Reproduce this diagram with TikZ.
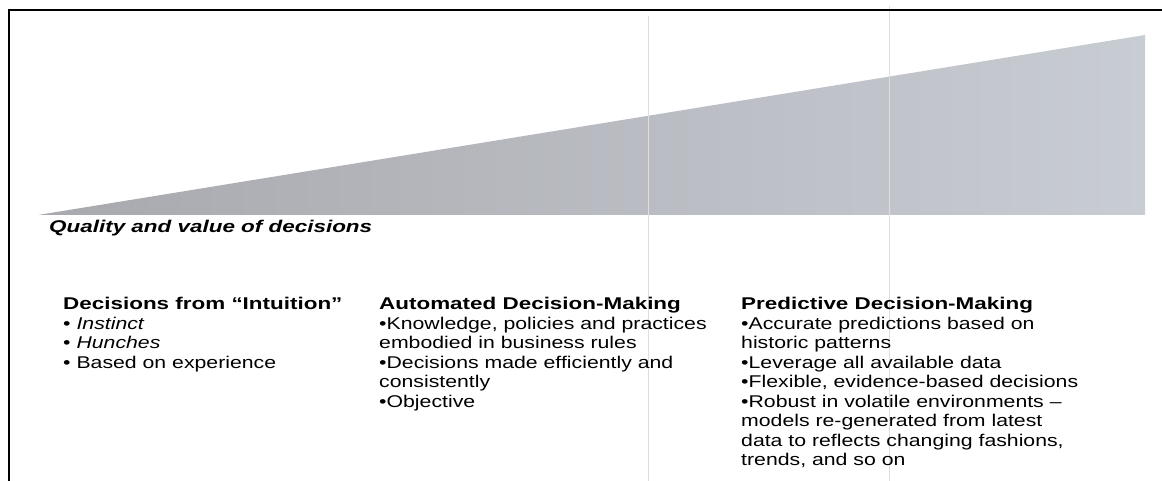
\documentclass[tikz,border=0pt]{standalone}
\usepackage{fontspec}
\setmainfont{Liberation Sans}[FakeStretch=1.25]
\newfontfamily\widefont{Liberation Sans}[FakeStretch=1.32]
\usetikzlibrary{positioning}

\begin{document}
\begin{tikzpicture}[x=1pt, y=-1pt,
    column/.style={align=left, inner sep=0pt, anchor=north west, font=\fontsize{17}{19.5}\selectfont},
    caption/.style={inner sep=0pt, anchor=west, font=\widefont\bfseries\itshape\fontsize{17}{19.5}\selectfont},
    frame/.style={draw=black, line width=1.5pt},
    crease/.style={draw=black!13, line width=0.7pt}
]

% Page
\useasboundingbox (0,0) rectangle (1162,481);
\fill[white] (0,0) rectangle (1162,481);

% Wedge
\shade[left color={rgb,255:red,168;green,169;blue,174}, right color={rgb,255:red,200;green,204;blue,211}]
    (38,215) -- (1145,35) -- (1145,215) -- cycle;

% Scan creases
\draw[crease] (648,16) -- (648,481);
\draw[crease] (889,6) -- (889,481);

% Frame
\draw[frame] (9,481) -- (9,10);
\draw[frame, line width=2.2pt] (8.25,10) -- (1162,10);

% Caption under the wedge
\node[caption] (quality) at (49,228) {Quality and value of decisions};

% Intuition
\node[column] (intuition) at (63,297) {{\widefont\bfseries Decisions from “Intuition”}\\
• \textit{Instinct}\\
• \textit{Hunches}\\
• Based on experience};

% Automated
\node[column] (automated) at (379,297) {{\widefont\bfseries Automated Decision-Making}\\
•Knowledge, policies and practices\\
embodied in business rules\\
•Decisions made efficiently and\\
consistently\\
•Objective};

% Predictive
\node[column] (predictive) at (741,297) {{\widefont\bfseries Predictive Decision-Making}\\
•Accurate predictions based on\\
historic patterns\\
•Leverage all available data\\
•Flexible, evidence-based decisions\\
•Robust in volatile environments –\\
models re-generated from latest\\
data to reflects changing fashions,\\
trends, and so on};

\end{tikzpicture}
\end{document}
